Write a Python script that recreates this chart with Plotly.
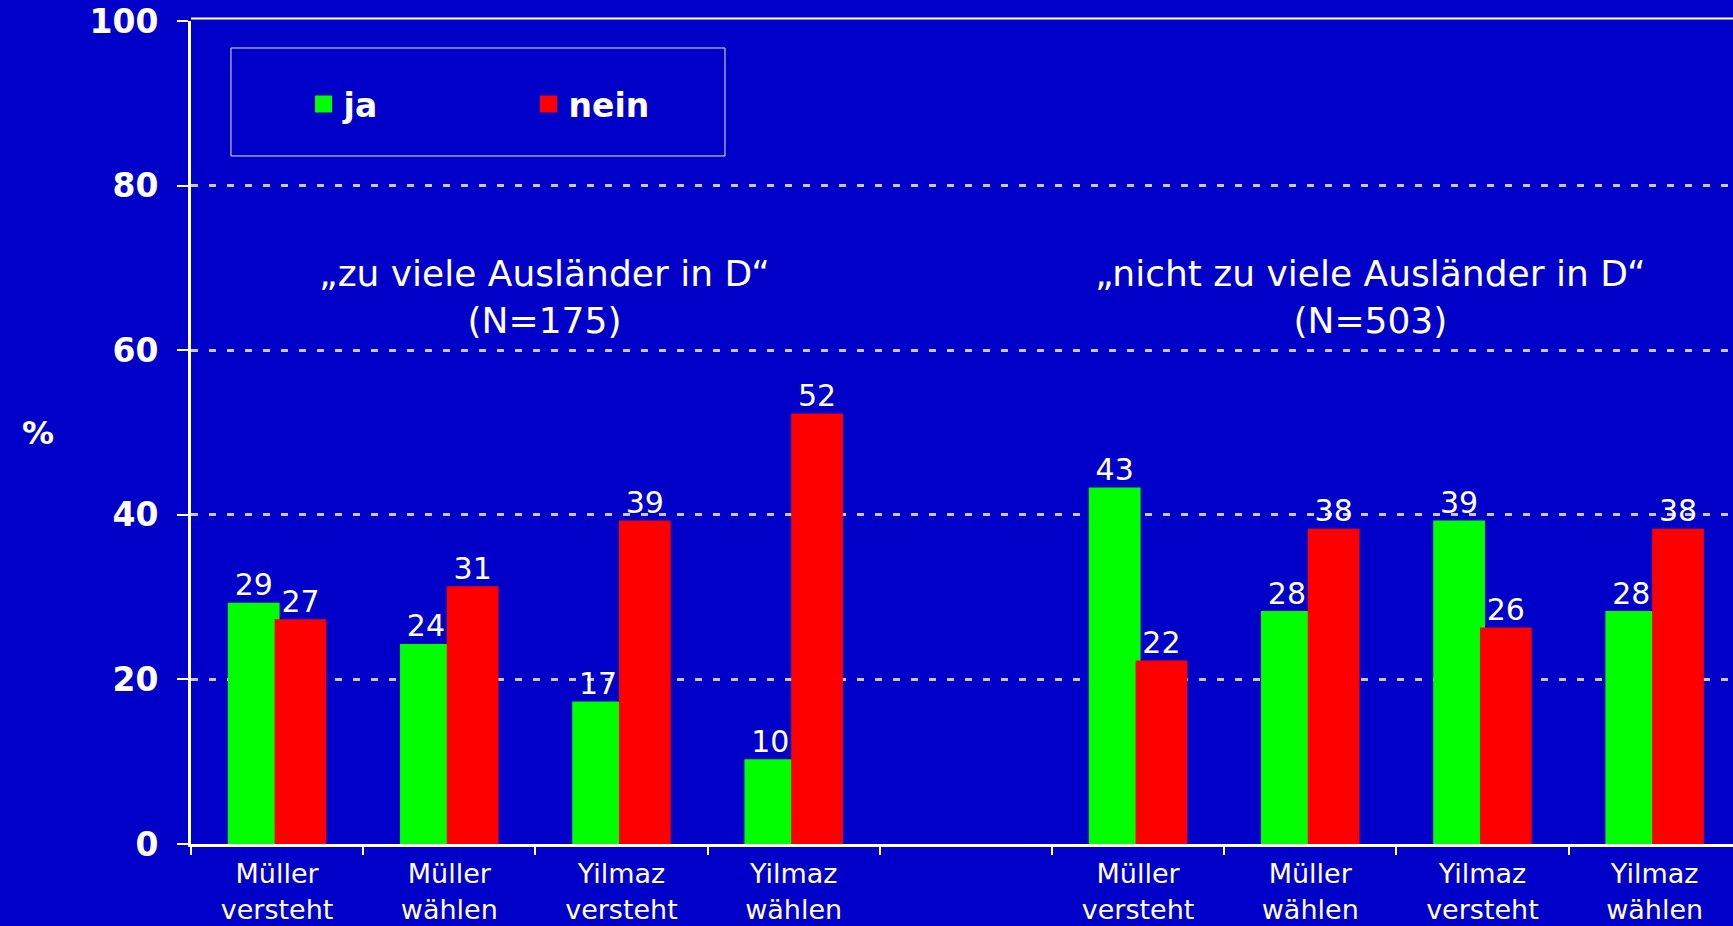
import plotly.graph_objects as go

#Datos del grafico (porcentajes)
categorias = ["mv1", "mw1", "yv1", "yw1", "vacio", "mv2", "mw2", "yv2", "yw2"]
etiquetas = [
    "Müller<br>versteht", "Müller<br>wählen", "Yilmaz<br>versteht", "Yilmaz<br>wählen",
    "",
    "Müller<br>versteht", "Müller<br>wählen", "Yilmaz<br>versteht", "Yilmaz<br>wählen",
]
ja = [29, 24, 17, 10, None, 43, 28, 39, 28]
nein = [27, 31, 39, 52, None, 22, 38, 26, 38]

grupos = ["„zu viele Ausländer in D“<br>(N=175)", "„nicht zu viele Ausländer in D“<br>(N=503)"]

#Colores
azul = "#0000C8"
verde = "#00FF00"
rojo = "#FF0000"
fuente = "DejaVu Sans"

fig = go.Figure()

#El borde del mismo color agranda el cuadrado de la leyenda
for nombre, valores, color in [("ja", ja, verde), ("nein", nein, rojo)]:
    fig.add_trace(go.Bar(
        x=categorias,
        y=valores,
        name=nombre,
        marker_color=color,
        marker_line_color=color,
        marker_line_width=5,
        text=[("" if v is None else str(v)) for v in valores],
        textposition="outside",
        textfont=dict(family=fuente, size=30, color="white"),
        constraintext="none",
        cliponaxis=False,
    ))

#Titulos de cada grupo
fig.add_annotation(x=1.55, y=66.5, xref="x", yref="y", text=grupos[0], showarrow=False,
                   font=dict(family=fuente, size=36, color="white"))
fig.add_annotation(x=6.35, y=66.5, xref="x", yref="y", text=grupos[1], showarrow=False,
                   font=dict(family=fuente, size=36, color="white"))

#Etiqueta del eje y
fig.add_annotation(x=-0.099, y=50, xref="paper", yref="y", xanchor="center", text="<b>%</b>",
                   showarrow=False, font=dict(family=fuente, size=32, color="white"))

#Marco de la leyenda y linea superior
fig.add_shape(type="rect", xref="paper", yref="paper", x0=0.0259, x1=0.3463, y0=0.836, y1=0.9672,
              line=dict(color="#e8e8e8", width=1))
fig.add_shape(type="line", xref="paper", yref="paper", x0=0, x1=1, y0=1.003, y1=1.003,
              line=dict(color="white", width=2))

fig.update_layout(
    width=1733,
    height=926,
    margin=dict(l=191, r=0, t=21, b=82),
    paper_bgcolor=azul,
    plot_bgcolor=azul,
    barmode="group",
    bargap=0.457,
    bargroupgap=0,
    font=dict(family=fuente, color="white"),
    showlegend=True,
    legend=dict(
        orientation="h",
        x=0.073, y=0.899, xanchor="left", yanchor="middle",
        bgcolor="rgba(0,0,0,0)",
        borderwidth=0,
        entrywidth=180,
        font=dict(family=fuente, size=33, color="white", weight="bold"),
    ),
    xaxis=dict(
        type="category",
        categoryorder="array",
        categoryarray=categorias,
        tickvals=categorias,
        ticktext=etiquetas,
        range=[-0.5, 8.455],
        tickson="boundaries",
        ticks="outside",
        ticklen=8,
        tickwidth=2,
        tickcolor="white",
        showline=True,
        linecolor="white",
        linewidth=3,
        showgrid=False,
        automargin=False,
        tickfont=dict(family=fuente, size=27, color="white"),
        ticklabelstandoff=4,
    ),
    yaxis=dict(
        range=[0, 100],
        tickvals=[0, 20, 40, 60, 80, 100],
        ticks="outside",
        ticklen=11,
        tickwidth=2,
        tickcolor="white",
        showline=True,
        linecolor="white",
        linewidth=3,
        showgrid=True,
        gridcolor="#c8c8c8",
        gridwidth=3,
        griddash="7px,11px",
        zeroline=False,
        automargin=False,
        tickfont=dict(family=fuente, size=33, color="white", weight="bold"),
        ticklabelstandoff=12,
    ),
)

#Sin margen en la pagina para que el grafico ocupe toda la ventana
fig.write_html("out.html", config={"displayModeBar": False},
               post_script="document.body.style.margin='0';")
